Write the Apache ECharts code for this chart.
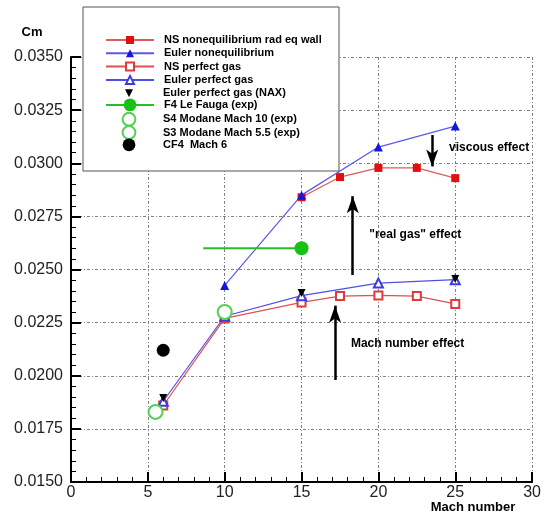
<!DOCTYPE html>
<html><head><meta charset="utf-8">
<script src="https://cdn.jsdelivr.net/npm/echarts@6/dist/echarts.min.js"></script>
<style>html,body{margin:0;padding:0;background:#fff}#c{width:544px;height:514px}</style>
</head><body><div id="c"></div>
<script>
// ---- data ----
const names = [
  'NS nonequilibrium rad eq wall',
  'Euler nonequilibrium',
  'NS perfect gas',
  'Euler perfect gas',
  'Euler perfect gas (NAX)',
  'F4 Le Fauga (exp)',
  'S4 Modane Mach 10 (exp)',
  'S3 Modane Mach 5.5 (exp)',
  'CF4  Mach 6'
];
const machNSNoneq = [15, 17.5, 20, 22.5, 25];
const cmNSNoneq = [0.0284, 0.02935, 0.02978, 0.02978, 0.0293];
const machEulerNoneq = [10, 15, 20, 25];
const cmEulerNoneq = [0.02425, 0.0285, 0.03076, 0.03175];
const machNSPerfect = [6, 10, 15, 17.5, 20, 22.5, 25];
const cmNSPerfect = [0.0186, 0.0227, 0.02345, 0.02375, 0.02378, 0.02375, 0.02338];
const machEulerPerfect = [6, 10, 15, 20, 25];
const cmEulerPerfect = [0.0188, 0.0228, 0.02377, 0.02436, 0.02452];
const machNAX = [6, 10, 15, 25];
const cmNAX = [0.01895, 0.02285, 0.0239, 0.02455];
const machF4 = [8.6, 15];
const cmF4 = [0.0260, 0.0260];
const machS4 = [10];
const cmS4 = [0.0230];
const machS3 = [5.5];
const cmS3 = [0.0183];
const machCF4 = [6];
const cmCF4 = [0.0212];
const xTickLabels = [0, 5, 10, 15, 20, 25, 30];
const yTickLabels = ['0.0150','0.0175','0.0200','0.0225','0.0250','0.0275','0.0300','0.0325','0.0350'];
// annotation arrows: [mach, cmFrom, cmTo]
const arrows = [[23.5, 0.03133, 0.02985], [18.33, 0.02474, 0.02845], [17.18, 0.0198, 0.0233]];
// annotation texts: [text, mach, cm, align]
const notes = [
  ['viscous effect', 24.6, 0.03071, 'left'],
  ['"real gas" effect', 22.4, 0.02662, 'center'],
  ['Mach number effect', 21.9, 0.02152, 'center']
];

const zip = (xs, ys) => xs.map((x, i) => [x, ys[i]]);
const triDown = 'path://M0,0 L10,0 L5,10 Z';
const font = 'Arial, "Liberation Sans", sans-serif';
const noLine = {opacity: 0, width: 0};

const chart = echarts.init(document.getElementById('c'), null, {renderer: 'canvas'});

const series = [
  {name: names[0], type: 'line', data: zip(machNSNoneq, cmNSNoneq), symbol: 'rect', symbolSize: 8,
   itemStyle: {color: '#e01010', borderWidth: 0}, lineStyle: {color: '#e05a5a', width: 1.2}, z: 3},
  {name: names[1], type: 'line', data: zip(machEulerNoneq, cmEulerNoneq), symbol: 'triangle', symbolSize: 9,
   itemStyle: {color: '#1515e0', borderWidth: 0}, lineStyle: {color: '#5a5ae6', width: 1.2}, z: 4},
  {name: names[2], type: 'line', data: zip(machNSPerfect, cmNSPerfect), symbol: 'emptyRect', symbolSize: 8,
   itemStyle: {color: '#e03a3a', borderWidth: 1.2}, lineStyle: {color: '#e05050', width: 1.2}, z: 3},
  {name: names[3], type: 'line', data: zip(machEulerPerfect, cmEulerPerfect), symbol: 'emptyTriangle', symbolSize: 9,
   itemStyle: {color: '#3a3ae0', borderWidth: 1.2}, lineStyle: {color: '#5050e0', width: 1.2}, z: 3},
  {name: names[4], type: 'line', data: zip(machNAX, cmNAX), symbol: triDown, symbolSize: 8,
   itemStyle: {color: '#000', borderWidth: 0}, lineStyle: noLine, z: 5},
  {name: names[5], type: 'line', symbol: 'circle', symbolSize: 14,
   data: zip(machF4, cmF4).map((p, i) => i === 0 ? {value: p, symbol: 'none'} : {value: p}),
   itemStyle: {color: '#18c018', borderWidth: 0}, lineStyle: {color: '#22c022', width: 2}, z: 5},
  {name: names[6], type: 'line', data: zip(machS4, cmS4), symbol: 'emptyCircle', symbolSize: 14,
   itemStyle: {color: '#55d055', borderWidth: 1.5}, lineStyle: noLine, z: 6},
  {name: names[7], type: 'line', data: zip(machS3, cmS3), symbol: 'emptyCircle', symbolSize: 14,
   itemStyle: {color: '#55d055', borderWidth: 1.5}, lineStyle: noLine, z: 6},
  {name: names[8], type: 'line', data: zip(machCF4, cmCF4), symbol: 'circle', symbolSize: 13,
   itemStyle: {color: '#000', borderWidth: 0}, lineStyle: noLine, z: 6,
   markLine: {
     silent: true, animation: false, symbol: ['none', 'arrow'],
     label: {show: false},
     lineStyle: {color: '#000', width: 2.5, type: 'solid'},
     emphasis: {disabled: true},
     data: arrows.map(a => [
       {coord: [a[0], a[1]], symbol: 'none'},
       {coord: [a[0], a[2]], symbol: 'arrow', symbolSize: [9, 17]}
     ])
   }}
];

// one legend per row so each row can have its own icon size
const legendH = [10, 10, 10, 10, 10, 16, 16, 16, 16];
const legends = names.map((n, i) => {
  const yc = 40 + 13.3 * i;
  const h = legendH[i];
  return {
    show: true, data: [n], left: 105, top: yc - Math.max(h, 12) / 2,
    itemWidth: 48, itemHeight: h, padding: 0, selectedMode: false, z: 20,
    textStyle: {fontSize: 11, fontWeight: 'bold', fontFamily: font, color: '#000', lineHeight: 12, padding: [0, 0, 0, 5]}
  };
});

const gridLine = {show: true, lineStyle: {color: '#808080', width: 1, type: [3, 2, 1, 2]}};

chart.setOption({
  animation: false,
  backgroundColor: '#fff',
  grid: {left: 71, right: 5, top: 57, bottom: 32, containLabel: false},
  legend: legends,
  xAxis: {
    type: 'value', min: 0, max: 30, interval: 5,
    axisLine: {onZero: false, lineStyle: {color: '#000', width: 2}},
    axisTick: {inside: true, length: 10, lineStyle: {color: '#000', width: 2}},
    minorTick: {show: true, splitNumber: 5, length: 5, lineStyle: {color: '#000', width: 1}},
    splitLine: gridLine,
    axisLabel: {fontSize: 16, color: '#222', fontFamily: font, margin: 3,
      formatter: v => String(xTickLabels[Math.round(v / 5)])}
  },
  yAxis: {
    type: 'value', min: 0.015, max: 0.035, interval: 0.0025,
    axisLine: {onZero: false, lineStyle: {color: '#000', width: 2}},
    axisTick: {inside: true, length: 10, lineStyle: {color: '#000', width: 2}},
    minorTick: {show: true, splitNumber: 5, length: 5, lineStyle: {color: '#000', width: 1}},
    splitLine: gridLine,
    axisLabel: {fontSize: 16, color: '#222', fontFamily: font, margin: 8,
      formatter: v => yTickLabels[Math.round((v - 0.015) / 0.0025)]}
  },
  series: series
});

// annotation text & legend box & axis titles
const g = [
  {type: 'rect', shape: {x: 83, y: 7, width: 256, height: 164}, style: {fill: '#fff', stroke: '#555', lineWidth: 1}, z: 10},
  {type: 'text', x: 32, y: 32, style: {text: 'Cm', font: 'bold 13px ' + font, fill: '#000', align: 'center', verticalAlign: 'middle'}, z: 10},
  {type: 'text', x: 473, y: 507, style: {text: 'Mach number', font: 'bold 13px ' + font, fill: '#000', align: 'center', verticalAlign: 'middle'}, z: 10}
];
notes.forEach(n => {
  const p = chart.convertToPixel({gridIndex: 0}, [n[1], n[2]]);
  g.push({type: 'text', x: p[0], y: p[1], style: {text: n[0], font: 'bold 12px ' + font, fill: '#000', align: n[3], verticalAlign: 'middle'}, z: 10});
});
chart.setOption({graphic: g});
</script>
</body></html>
